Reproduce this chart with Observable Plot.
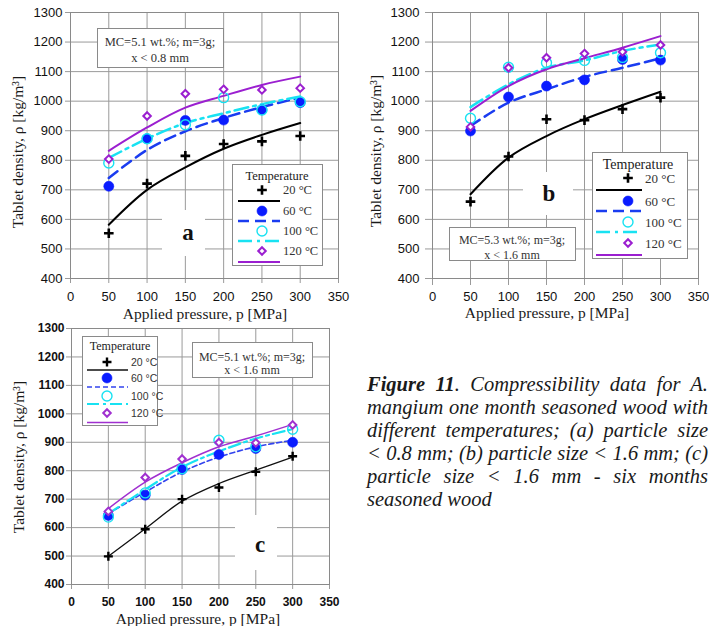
<!DOCTYPE html>
<html><head><meta charset="utf-8">
<script src="https://cdn.jsdelivr.net/npm/d3@7"></script>
<script src="https://cdn.jsdelivr.net/npm/@observablehq/plot@0.6"></script>
<style>
html,body{margin:0;padding:0;background:#fff;width:709px;height:626px;overflow:hidden;position:relative}
.panel{position:absolute}
#overlay{position:absolute;left:0;top:0;pointer-events:none}
#caption{position:absolute;left:367px;top:373px;width:341px;font-family:"Liberation Serif",serif;font-style:italic;font-size:20.5px;line-height:23px;color:#1a1a1a}
#caption div{text-align:justify;text-align-last:justify;white-space:nowrap}
#caption div.last{text-align-last:left}
</style></head>
<body>
<div id="caption">
<div><b>Figure 11</b>. Compressibility data for A.</div>
<div>mangium one month seasoned wood with</div>
<div>different temperatures; (a) particle size</div>
<div>&lt; 0.8 mm; (b) particle size &lt; 1.6 mm; (c)</div>
<div>particle size &lt; 1.6 mm - six months</div>
<div class="last">seasoned wood</div>
</div>
<script>
// ---------- data ----------
const pressure = [50, 100, 150, 200, 250, 300];
const temps = ["20 °C", "60 °C", "100 °C", "120 °C"];
const xTicks = [0, 50, 100, 150, 200, 250, 300, 350];
const yTicks = [400, 500, 600, 700, 800, 900, 1000, 1100, 1200, 1300];

// panel a: MC=5.1 wt.%, x < 0.8 mm
const a20 = [553, 721, 815, 855, 864, 882];
const a60 = [712, 873, 935, 936, 971, 995];
const a100 = [791, 873, 920, 1012, 970, 998];
const a120 = [804, 950, 1025, 1040, 1038, 1044];
const a20fit = [582, 700, 776, 839, 886, 926];
const a60fit = [740, 835, 898, 943, 980, 1012];
const a100fit = [808, 873, 926, 959, 990, 1016];
const a120fit = [832, 911, 978, 1018, 1055, 1083];

// panel b: MC=5.3 wt.%, x < 1.6 mm
const b20 = [660, 813, 939, 936, 973, 1012];
const b60 = [899, 1014, 1051, 1072, 1141, 1139];
const b100 = [942, 1115, 1130, 1138, 1148, 1164];
const b120 = [913, 1113, 1147, 1161, 1167, 1190];
const b20fit = [685, 809, 882, 939, 987, 1032];
const b60fit = [916, 995, 1040, 1082, 1113, 1145];
const b100fit = [980, 1057, 1113, 1138, 1170, 1192];
const b120fit = [967, 1051, 1108, 1145, 1181, 1220];

// panel c: MC=5.1 wt.%, x < 1.6 mm, six months seasoned
const c20 = [499, 594, 700, 741, 796, 851];
const c60 = [643, 714, 804, 857, 878, 900];
const c100 = [637, 722, 807, 907, 884, 946];
const c120 = [657, 776, 841, 899, 898, 961];
const c20fit = [499, 596, 693, 755, 802, 848];
const c60fit = [649, 725, 796, 848, 884, 907];
const c100fit = [649, 734, 813, 868, 913, 946];
const c120fit = [667, 760, 828, 884, 922, 963];

// ---------- styles ----------
const PURPLE = "#9b1fd0", BLUE = "#0a1cff", DASHBLUE = "#1a3cf0", CYAN = "#18e2f2";
const thick = {
  lines: [
    {stroke: "#000", strokeWidth: 2},
    {stroke: DASHBLUE, strokeWidth: 2.5, strokeDasharray: "11,6"},
    {stroke: CYAN, strokeWidth: 2.5, strokeDasharray: "14,5,3,5"},
    {stroke: PURPLE, strokeWidth: 2}
  ],
  dots: [
    {symbol: "plus", r: 3.2, stroke: "#000", strokeWidth: 2.6},
    {symbol: "circle", r: 5, fill: BLUE, stroke: BLUE, strokeWidth: 0.6},
    {symbol: "circle", r: 5, fill: "none", stroke: CYAN, strokeWidth: 1.4},
    {symbol: "diamond2", r: 3.4, fill: "white", stroke: PURPLE, strokeWidth: 2}
  ]
};
const thin = {
  lines: [
    {stroke: "#111", strokeWidth: 1.3},
    {stroke: "#3344ee", strokeWidth: 1.6, strokeDasharray: "5,3"},
    {stroke: CYAN, strokeWidth: 2.2, strokeDasharray: "12,4,3,4"},
    {stroke: "#a030d0", strokeWidth: 1.5}
  ],
  dots: [
    {symbol: "plus", r: 3.0, stroke: "#000", strokeWidth: 2.4},
    {symbol: "circle", r: 5, fill: BLUE, stroke: BLUE, strokeWidth: 0.6},
    {symbol: "circle", r: 5, fill: "none", stroke: CYAN, strokeWidth: 1.4},
    {symbol: "diamond2", r: 3.4, fill: "white", stroke: "#a030d0", strokeWidth: 2}
  ]
};

const panels = [
  {left: 0, top: 0, width: 355, height: 310, mL: 70, mR: 17, mT: 12, mB: 32,
   pts: [a20, a60, a100, a120], fit: [a20fit, a60fit, a100fit, a120fit], st: thick,
   tickSize: 5, yPad: 3, xPad: 8, fw: "normal", fs: "13px"},
  {left: 355, top: 0, width: 354, height: 310, mL: 77, mR: 11, mT: 12, mB: 32,
   pts: [b20, b60, b100, b120], fit: [b20fit, b60fit, b100fit, b120fit], st: thick,
   tickSize: 7, yPad: 6, xPad: 6, fw: "normal", fs: "13px"},
  {left: 0, top: 310, width: 355, height: 316, mL: 71, mR: 26, mT: 18, mB: 42,
   pts: [c20, c60, c100, c120], fit: [c20fit, c60fit, c100fit, c120fit], st: thin,
   tickSize: 5, yPad: 2, xPad: 8, fw: "bold", fs: "12px"}
];

const GRID = "#9a9a9a";
const fmt = d3.format("d");
for (const cfg of panels) {
  const marks = [
    Plot.gridX(xTicks, {stroke: GRID, strokeOpacity: 1}),
    Plot.gridY(yTicks, {stroke: GRID, strokeOpacity: 1}),
    Plot.axisX(xTicks, {tickSize: cfg.tickSize, tickPadding: cfg.xPad, tickFormat: fmt, stroke: GRID, fill: "#111", fontWeight: cfg.fw, label: null}),
    Plot.axisY(yTicks, {tickSize: cfg.tickSize, tickPadding: cfg.yPad, tickFormat: fmt, stroke: GRID, fill: "#111", fontWeight: cfg.fw, label: null}),
    Plot.frame({stroke: "#8a8a8a"})
  ];
  temps.forEach((t, i) => {
    const rows = pressure.map((p, j) => ({p, rho: cfg.fit[i][j], t}));
    marks.push(Plot.line(rows, {x: "p", y: "rho", curve: "catmull-rom", ...cfg.st.lines[i]}));
  });
  temps.forEach((t, i) => {
    const rows = pressure.map((p, j) => ({p, rho: cfg.pts[i][j], t}));
    marks.push(Plot.dot(rows, {x: "p", y: "rho", ...cfg.st.dots[i]}));
  });
  const svg = Plot.plot({
    width: cfg.width, height: cfg.height,
    marginLeft: cfg.mL, marginRight: cfg.mR, marginTop: cfg.mT, marginBottom: cfg.mB,
    x: {domain: [0, 350]}, y: {domain: [400, 1300]},
    style: {background: "transparent", fontFamily: "'Liberation Sans', Arial, sans-serif", fontSize: cfg.fs, overflow: "visible"},
    marks
  });
  svg.classList.add("panel");
  svg.style.left = cfg.left + "px";
  svg.style.top = cfg.top + "px";
  document.body.appendChild(svg);
}

// ---------- overlay: titles, legends, annotation boxes ----------
const ov = d3.select("body").append("svg").attr("id", "overlay").attr("width", 709).attr("height", 626);
const SERIF = "'Liberation Serif', 'Times New Roman', serif";
const SANS = "'Liberation Sans', Arial, sans-serif";
function txt(x, y, s, o = {}) {
  const t = ov.append("text").attr("x", x).attr("y", y).text(s)
    .attr("font-family", o.family || SERIF).attr("font-size", o.size || 13)
    .attr("font-weight", o.weight || "normal").attr("fill", o.fill || "#1a1a1a")
    .attr("text-anchor", o.anchor || "middle").attr("dominant-baseline", o.base || "central");
  if (o.rotate) t.attr("transform", `rotate(${o.rotate},${x},${y})`);
  return t;
}

// axis titles
const yTitle = "Tablet density, ρ [kg/m³]";
const xTitle = "Applied pressure, p [MPa]";
txt(17.5, 152, yTitle, {size: 15.5, rotate: -90});
txt(375, 151, yTitle, {size: 15.5, rotate: -90});
txt(18, 457, yTitle, {size: 15.5, rotate: -90});
txt(205, 313, xTitle, {size: 15.5});
txt(547, 312, xTitle, {size: 15.5});
txt(198, 618, xTitle, {size: 15.5});

// panel letters with white backing
[
  {x: 162, y: 210, w: 43, h: 46, cx: 188, by: 240, s: "a"},
  {x: 523, y: 172, w: 50, h: 43, cx: 549, by: 201, s: "b"},
  {x: 235, y: 515, w: 42, h: 55, cx: 260, by: 552, s: "c"}
].forEach(d => {
  ov.append("rect").attr("x", d.x).attr("y", d.y).attr("width", d.w).attr("height", d.h).attr("fill", "#fff");
  txt(d.cx, d.by, d.s, {size: 23, weight: "bold", base: "alphabetic", fill: "#111"});
});

// MC annotation boxes
[
  {x: 97, y: 28, w: 126, h: 39, ly: [42, 58], l1: "MC=5.1 wt.%; m=3g;", l2: "x < 0.8 mm", fs: 12.5},
  {x: 449, y: 227, w: 126, h: 33, ly: [240, 254.5], l1: "MC=5.3 wt.%; m=3g;", l2: "x < 1.6 mm", fs: 12},
  {x: 192, y: 342, w: 120, h: 35, ly: [356.5, 369.5], l1: "MC=5.1 wt.%; m=3g;", l2: "x < 1.6 mm", fs: 12}
].forEach(d => {
  ov.append("rect").attr("x", d.x + 0.5).attr("y", d.y + 0.5).attr("width", d.w).attr("height", d.h)
    .attr("fill", "#fff").attr("stroke", "#8a8a8a");
  txt(d.x + d.w / 2, d.ly[0], d.l1, {size: d.fs, fill: "#333"});
  txt(d.x + d.w / 2, d.ly[1], d.l2, {size: d.fs, fill: "#333"});
});

// legends
function legend(L, st) {
  ov.append("rect").attr("x", L.x + 0.5).attr("y", L.y + 0.5).attr("width", L.w).attr("height", L.h)
    .attr("fill", "#fff").attr("stroke", "#8a8a8a");
  txt(L.tx, L.ty, "Temperature", {size: L.tfs, fill: "#222"});
  const symType = {plus: d3.symbolPlus, circle: d3.symbolCircle, diamond2: d3.symbolDiamond2};
  temps.forEach((t, i) => {
    const ds = st.dots[i], ls = st.lines[i];
    const sz = Math.PI * ds.r * ds.r;
    ov.append("path").attr("d", d3.symbol(symType[ds.symbol], sz)())
      .attr("transform", `translate(${L.mx},${L.ry[i]})`)
      .attr("fill", ds.fill || "none").attr("stroke", ds.stroke).attr("stroke-width", ds.strokeWidth);
    ov.append("line").attr("x1", L.lx1).attr("x2", L.lx2).attr("y1", L.ly[i]).attr("y2", L.ly[i])
      .attr("stroke", ls.stroke).attr("stroke-width", ls.strokeWidth)
      .attr("stroke-dasharray", ls.strokeDasharray || null);
    txt(L.labx, L.ry[i], t, {size: L.fs, family: L.family, anchor: "start", fill: "#333"});
  });
}
legend({x: 232, y: 164, w: 90, h: 101, tx: 277, ty: 176, tfs: 12.5, mx: 262, labx: 283,
        lx1: 238, lx2: 280, ry: [190, 211, 231, 251], ly: [201, 221, 241, 262], fs: 12.5, family: SERIF}, thick);
legend({x: 592, y: 152, w: 95, h: 106, tx: 638, ty: 164, tfs: 14, mx: 628, labx: 645,
        lx1: 596, lx2: 642, ry: [178, 201, 222, 243], ly: [190, 211, 232, 255], fs: 13, family: SERIF}, thick);
legend({x: 82, y: 336, w: 75, h: 89, tx: 120, ty: 346, tfs: 12, mx: 107, labx: 131,
        lx1: 87, lx2: 128, ry: [362, 378, 396, 413], ly: [370, 387, 404, 422.5], fs: 10.5, family: SANS}, thin);
</script>
</body></html>
